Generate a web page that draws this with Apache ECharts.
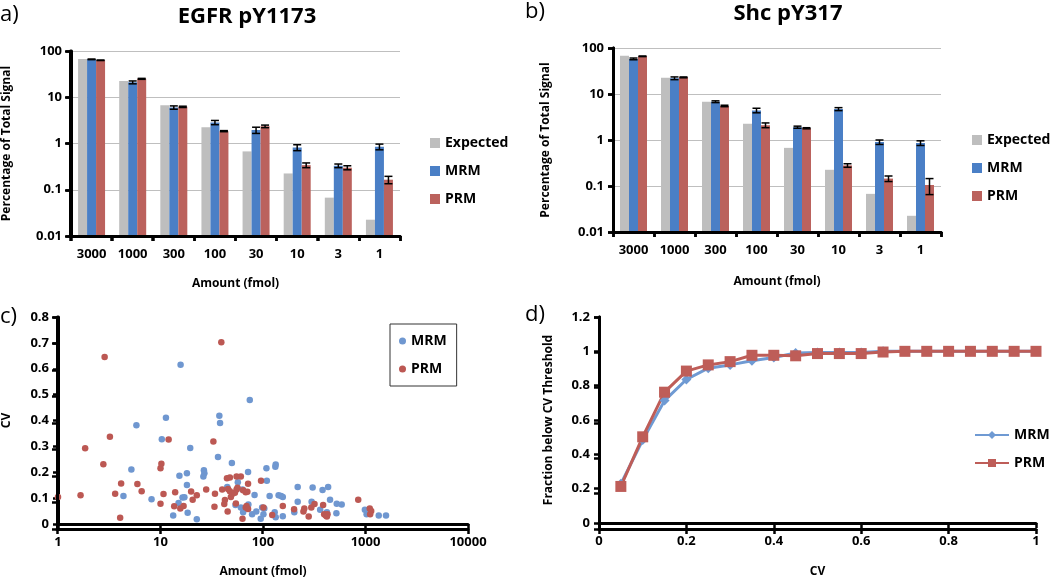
<!DOCTYPE html>
<html><head><meta charset="utf-8">
<script src="https://cdn.jsdelivr.net/npm/echarts@6/dist/echarts.min.js"></script>
<style>html,body{margin:0;padding:0;background:#fff}#wrap{position:relative;width:1050px;height:579px}#c,.ov{position:absolute;left:0;top:0;width:1050px;height:579px}.ov{pointer-events:none}</style>
</head><body><div id="wrap"><div id="c"></div></div>
<script>
const categories = ['3000','1000','300','100','30','10','3','1'];
const expected = [67.5, 22.5, 6.75, 2.25, 0.675, 0.225, 0.0675, 0.0225];
const egfrMRM = [66, 21, 6.0, 2.85, 1.95, 0.82, 0.33, 0.85];
const egfrMRMErr = [1, 1.5, 0.5, 0.3, 0.3, 0.12, 0.03, 0.12];
const egfrPRM = [63, 25, 6.2, 1.85, 2.35, 0.34, 0.30, 0.165];
const egfrPRMErr = [0.8, 0.6, 0.2, 0.05, 0.15, 0.04, 0.03, 0.03];
const shcMRM = [58, 22, 6.8, 4.4, 1.9, 4.7, 0.9, 0.86];
const shcMRMErr = [2.5, 1.5, 0.3, 0.5, 0.1, 0.35, 0.1, 0.1];
const shcPRM = [66, 23, 5.5, 2.1, 1.8, 0.28, 0.145, 0.105];
const shcPRMErr = [1, 0.5, 0.2, 0.25, 0.05, 0.025, 0.02, 0.04];

const mrmScatter = [[4.35,0.108],[5.2,0.211],[5.82,0.382],[8.18,0.096],[10.3,0.328],[11.3,0.411],[13.3,0.033],[15.0,0.081],[15.3,0.186],[15.7,0.615],[16.4,0.102],[17.1,0.103],[18.1,0.151],[18.1,0.196],[18.4,0.043],[19.5,0.294],[22.6,0.018],[26.5,0.208],[26.8,0.196],[26.2,0.184],[36.4,0.259],[37.5,0.418],[38.1,0.390],[44.8,0.143],[49.7,0.236],[53.9,0.073],[56.8,0.161],[60.8,0.064],[63.1,0.133],[64.0,0.045],[71.5,0.201],[72.0,0.075],[74.3,0.479],[78.3,0.038],[82.7,0.112],[86.0,0.048],[95,0.020],[98,0.064],[103,0.060],[101,0.038],[108,0.215],[109,0.167],[116,0.108],[130,0.045],[132,0.221],[133,0.230],[133,0.026],[142,0.111],[150,0.108],[156,0.104],[156,0.030],[202,0.045],[218,0.143],[218,0.086],[305,0.141],[298,0.086],[361,0.055],[381,0.131],[420,0.045],[432,0.143],[451,0.094],[520,0.042],[524,0.078],[586,0.075],[986,0.055],[1025,0.038],[1346,0.033],[1585,0.033]];
const prmScatter = [[1.0,0.104],[1.66,0.111],[1.84,0.293],[2.77,0.231],[2.85,0.645],[3.21,0.337],[3.61,0.117],[4.13,0.157],[4.04,0.024],[5.95,0.155],[6.55,0.127],[10.0,0.215],[10.2,0.233],[10.0,0.078],[10.7,0.116],[12.0,0.327],[13.6,0.069],[13.9,0.123],[15.6,0.060],[16.8,0.070],[19.9,0.126],[20.6,0.094],[22.6,0.111],[27.9,0.133],[32.8,0.319],[34.0,0.117],[33.6,0.067],[39.2,0.702],[40.0,0.133],[42.5,0.093],[41.9,0.077],[45.2,0.048],[44.5,0.177],[47.5,0.180],[45.6,0.135],[47.5,0.127],[48.6,0.104],[50.5,0.117],[53.2,0.121],[55.2,0.133],[56.4,0.140],[55.2,0.184],[60.8,0.184],[54.4,0.079],[63.1,0.020],[64.0,0.130],[67.9,0.123],[70.4,0.125],[69.1,0.070],[67.9,0.064],[71.5,0.156],[71.5,0.058],[95.7,0.167],[101,0.064],[123,0.035],[156,0.070],[201,0.057],[248,0.048],[253,0.060],[279,0.029],[296,0.064],[318,0.077],[386,0.073],[395,0.038],[410,0.033],[420,0.029],[426,0.038],[849,0.094],[1100,0.060],[1137,0.050],[1110,0.038]];

const cvThresholds = [0.05,0.1,0.15,0.2,0.25,0.3,0.35,0.4,0.45,0.5,0.55,0.6,0.65,0.7,0.75,0.8,0.85,0.9,0.95,1.0];
const mrmFraction = [0.228,0.483,0.713,0.836,0.902,0.921,0.945,0.964,0.99,0.993,0.993,0.993,1.0,1.0,1.0,1.0,1.0,1.0,1.0,1.0];
const prmFraction = [0.213,0.502,0.762,0.885,0.921,0.940,0.977,0.977,0.974,0.987,0.987,0.987,0.996,1.0,1.0,1.0,1.0,1.0,1.0,1.0];

const FONT = '"Open Sans", "Liberation Sans", sans-serif';
const GRAY = '#BEBEBE', BLUE = '#4A7FC6', RED = '#BB625D';
const SBLUE = '#6F97D0', SRED = '#BC5853';
const LBLUE = '#6F9AD3', LRED = '#BE5D58';

const lbl = () => ({color: '#000', fontWeight: 'bold', fontSize: 13, fontFamily: FONT});
const nameStyle = () => ({color: '#000', fontWeight: 'bold', fontSize: 12, fontFamily: FONT});
const axLine = () => ({show: true, onZero: false, lineStyle: {color: '#000', width: 3}});
const tick = () => ({show: true, length: 5, lineStyle: {color: '#000', width: 2.5}});
const numFmt = v => String(+(+v).toPrecision(3));

function errRender(offset) {
  return function (params, api) {
    const i = api.value(0), v = api.value(1), e = api.value(2);
    const c = api.coord([i, v]);
    const hi = api.coord([i, v + e])[1];
    const lo = api.coord([i, Math.max(v - e, 1e-4)])[1];
    const x = c[0] + offset;
    const style = {stroke: '#000', lineWidth: 1.5};
    return {type: 'group', children: [
      {type: 'line', shape: {x1: x, y1: hi, x2: x, y2: lo}, style: style},
      {type: 'line', shape: {x1: x - 4, y1: hi, x2: x + 4, y2: hi}, style: style},
      {type: 'line', shape: {x1: x - 4, y1: lo, x2: x + 4, y2: lo}, style: style}
    ]};
  };
}
function barRender(offset, color) {
  return function (params, api) {
    const i = api.value(0), v = api.value(1);
    const top = api.coord([i, v]);
    const base = api.coord([i, 0.01]);
    const x = top[0] + offset - 4.5;
    return {type: 'rect', shape: {x: x, y: top[1], width: 9, height: base[1] - top[1]}, style: {fill: color}};
  };
}
function pairData(vals) { return vals.map((v, i) => [i, v]); }
function errData(vals, errs) { return vals.map((v, i) => [i, v, errs[i]]); }

const grids = [
  {left: 70, top: 51, width: 330, height: 185},
  {left: 613, top: 48, width: 328, height: 184},
  {left: 57, top: 317, width: 411, height: 212},
  {left: 599, top: 317, width: 437, height: 212}
];
function barAxisX(gi, gap) {
  return {type: 'category', gridIndex: gi, data: categories,
    axisLine: axLine(), axisTick: tick(),
    axisLabel: Object.assign({margin: 12}, lbl()),
    name: 'Amount (fmol)', nameLocation: 'middle', nameGap: gap, nameTextStyle: nameStyle()};
}
function barAxisY(gi, gap) {
  return {type: 'log', logBase: 10, gridIndex: gi, min: 0.01, max: 100,
    axisLine: axLine(), axisTick: tick(),
    axisLabel: Object.assign({margin: 9, formatter: numFmt}, lbl()),
    splitLine: {show: true, lineStyle: {color: '#BFBFBF', width: 1}},
    name: 'Percentage of Total Signal', nameLocation: 'middle', nameGap: gap, nameRotate: 90, nameTextStyle: nameStyle()};
}
const xAxes = [
  barAxisX(0, 42),
  barAxisX(1, 44),
  {type: 'log', logBase: 10, gridIndex: 2, min: 1, max: 10000,
    axisLine: axLine(), axisTick: tick(), axisLabel: Object.assign({margin: 12, formatter: numFmt}, lbl()), splitLine: {show: false},
    name: 'Amount (fmol)', nameLocation: 'middle', nameGap: 42, nameTextStyle: nameStyle()},
  {type: 'value', gridIndex: 3, min: 0, max: 1, interval: 0.2,
    axisLine: axLine(), axisTick: tick(), axisLabel: Object.assign({margin: 12}, lbl()), splitLine: {show: false},
    name: 'CV', nameLocation: 'middle', nameGap: 43, nameTextStyle: nameStyle()}
];
const yAxes = [
  barAxisY(0, 58),
  barAxisY(1, 61),
  {type: 'value', gridIndex: 2, min: 0, max: 0.8, interval: 0.1,
    axisLine: axLine(), axisTick: tick(), axisLabel: Object.assign({margin: 9}, lbl()), splitLine: {show: false},
    name: 'CV', nameLocation: 'middle', nameGap: 45, nameRotate: 90, nameTextStyle: nameStyle()},
  {type: 'value', gridIndex: 3, min: 0, max: 1.2, interval: 0.2,
    axisLine: axLine(), axisTick: tick(), axisLabel: Object.assign({margin: 9}, lbl()), splitLine: {show: false},
    name: 'Fraction below CV Threshold', nameLocation: 'middle', nameGap: 44, nameRotate: 90, nameTextStyle: nameStyle()}
];

function barSeries(name, data, color, offset, xi) {
  return {type: 'custom', name: name, xAxisIndex: xi, yAxisIndex: xi, data: pairData(data),
    renderItem: barRender(offset, color), encode: {x: 0, y: 1}, itemStyle: {color: color}, z: 2};
}
function errSeries(vals, errs, offset, xi) {
  return {type: 'custom', xAxisIndex: xi, yAxisIndex: xi, data: errData(vals, errs), renderItem: errRender(offset), z: 5,
    encode: {x: 0, y: 1}, silent: true};
}
const legendFmt = n => n.split('|')[0];
const legText = () => ({color: '#000', fontWeight: 'bold', fontSize: 14, fontFamily: FONT});

const titleTexts = [
  {type: 'text', x: 247, y: 17, style: {text: 'EGFR pY1173', font: 'bold 22px ' + FONT, fill: '#000', align: 'center', verticalAlign: 'middle', textAlign: 'center', textVerticalAlign: 'middle'}},
  {type: 'text', x: 788, y: 14, style: {text: 'Shc pY317', font: 'bold 22px ' + FONT, fill: '#000', align: 'center', verticalAlign: 'middle', textAlign: 'center', textVerticalAlign: 'middle'}},
  {type: 'text', x: 0, y: 15, style: {text: 'a)', font: '22px ' + FONT, fill: '#000', verticalAlign: 'middle', textVerticalAlign: 'middle'}},
  {type: 'text', x: 525, y: 12, style: {text: 'b)', font: '22px ' + FONT, fill: '#000', verticalAlign: 'middle', textVerticalAlign: 'middle'}},
  {type: 'text', x: 0, y: 317, style: {text: 'c)', font: '22px ' + FONT, fill: '#000', verticalAlign: 'middle', textVerticalAlign: 'middle'}},
  {type: 'text', x: 525, y: 315, style: {text: 'd)', font: '22px ' + FONT, fill: '#000', verticalAlign: 'middle', textVerticalAlign: 'middle'}}
];

const chart = echarts.init(document.getElementById('c'), null, {renderer: 'canvas'});
chart.setOption({
  animation: false,
  backgroundColor: '#fff',
  grid: grids,
  xAxis: xAxes,
  yAxis: yAxes,
  legend: [
    {data: ['Expected', 'MRM', 'PRM'], orient: 'vertical', left: 425, top: 131, itemWidth: 10, itemHeight: 10,
      itemGap: 14, textStyle: legText(), formatter: legendFmt, selectedMode: false, icon: 'rect'},
    {data: ['Expected|b', 'MRM|b', 'PRM|b'], orient: 'vertical', left: 967, top: 128, itemWidth: 10, itemHeight: 10,
      itemGap: 14, textStyle: legText(), formatter: legendFmt, selectedMode: false, icon: 'rect'},
    {data: ['MRM|c', 'PRM|c'], orient: 'vertical', left: 390, top: 324, itemWidth: 7, itemHeight: 7,
      itemGap: 14, padding: [10, 10, 10, 9], borderColor: '#333', borderWidth: 1, textStyle: legText(),
      formatter: legendFmt, selectedMode: false, icon: 'circle'},
    {data: ['MRM|d', 'PRM|d'], orient: 'vertical', left: 969, top: 423, itemWidth: 34, itemHeight: 10,
      itemGap: 14, textStyle: legText(), formatter: legendFmt, selectedMode: false}
  ],
  series: [
    barSeries('Expected', expected, GRAY, -9, 0),
    barSeries('MRM', egfrMRM, BLUE, 0, 0),
    barSeries('PRM', egfrPRM, RED, 9, 0),
    errSeries(egfrMRM, egfrMRMErr, 0, 0),
    errSeries(egfrPRM, egfrPRMErr, 9, 0),
    barSeries('Expected|b', expected, GRAY, -9, 1),
    barSeries('MRM|b', shcMRM, BLUE, 0, 1),
    barSeries('PRM|b', shcPRM, RED, 9, 1),
    errSeries(shcMRM, shcMRMErr, 0, 1),
    errSeries(shcPRM, shcPRMErr, 9, 1),
    {type: 'scatter', name: 'MRM|c', xAxisIndex: 2, yAxisIndex: 2, data: mrmScatter, symbolSize: 6.5,
      itemStyle: {color: SBLUE, opacity: 1}},
    {type: 'scatter', name: 'PRM|c', xAxisIndex: 2, yAxisIndex: 2, data: prmScatter, symbolSize: 6.5,
      itemStyle: {color: SRED, opacity: 1}},
    {type: 'line', name: 'MRM|d', xAxisIndex: 3, yAxisIndex: 3, data: cvThresholds.map((c, i) => [c, mrmFraction[i]]),
      symbol: 'diamond', symbolSize: 10, showAllSymbol: true, lineStyle: {color: LBLUE, width: 3}, itemStyle: {color: LBLUE}},
    {type: 'line', name: 'PRM|d', xAxisIndex: 3, yAxisIndex: 3, data: cvThresholds.map((c, i) => [c, prmFraction[i]]),
      symbol: 'rect', symbolSize: 11, showAllSymbol: true, lineStyle: {color: LRED, width: 3}, itemStyle: {color: LRED}}
  ],
  graphic: {elements: titleTexts}
});

// Axis frames: one transparent overlay chart per panel, holding only that panel's axis lines and ticks
// (same grid and axis settings as the main chart, labels and names hidden).
const wrap = document.getElementById('wrap');
for (let k = 0; k < 4; k++) {
  const div = document.createElement('div');
  div.className = 'ov';
  wrap.appendChild(div);
  const ov = echarts.init(div, null, {renderer: 'canvas'});
  const xa = Object.assign({}, xAxes[k], {gridIndex: 0, name: '', axisLabel: {show: false}, splitLine: {show: false}});
  const ya = Object.assign({}, yAxes[k], {gridIndex: 0, name: '', axisLabel: {show: false}, splitLine: {show: false}});
  ov.setOption({
    animation: false,
    backgroundColor: 'transparent',
    grid: [grids[k]],
    xAxis: [xa],
    yAxis: [ya],
    series: [{type: 'scatter', data: [], silent: true}]
  });
}
</script></body></html>
